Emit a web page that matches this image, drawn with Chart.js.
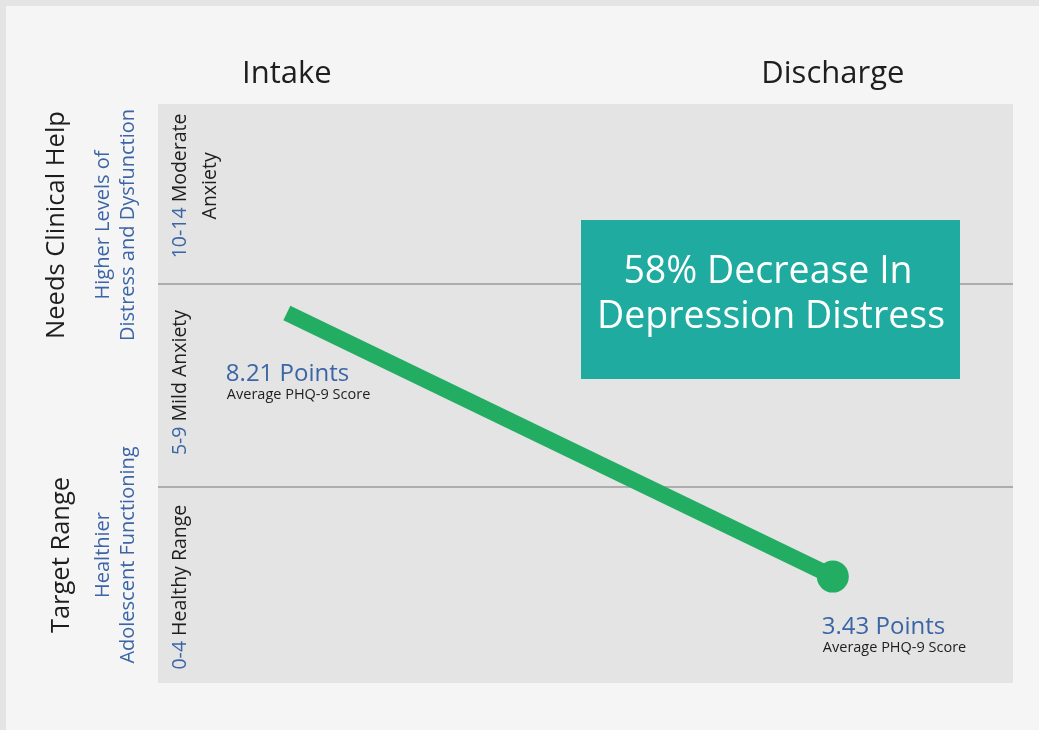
<!DOCTYPE html>
<html>
<head>
<meta charset="utf-8">
<script src="https://cdn.jsdelivr.net/npm/chart.js@4"></script>
<style>
html, body { margin: 0; padding: 0; background: #e4e5e4; }
canvas { display: block; }
</style>
</head>
<body>
<canvas id="myChart" width="1039" height="730"></canvas>
<script>
// chart data
const stages = ['Intake', 'Discharge'];
const phqScores = [8.21, 3.43];
const bandEdges = [5.05, 8.74];
const bandLabels = [
    { range: '0-4', lines: ['Healthy Range'] },
    { range: '5-9', lines: ['Mild Anxiety'] },
    { range: '10-14', lines: ['Moderate', 'Anxiety'] }
];
const calloutLines = ['58% Decrease In', 'Depression Distress'];

const FONT = '"Open Sans", "Noto Sans", sans-serif';
const BLUE = '#3c65a7';
const GREEN = '#23ad63';

const ctx = document.getElementById('myChart').getContext('2d');

//draws a rotated (bottom to top) line made of coloured parts, centred on x,y
const drawUpText = (c, x, y, parts, size) => {
    c.save();
    c.translate(x, y);
    c.rotate(-Math.PI / 2);
    c.font = size + 'px ' + FONT;
    c.textBaseline = 'middle';
    c.textAlign = 'left';
    let total = 0;
    parts.forEach(p => { total += c.measureText(p.text).width; });
    let pos = -total / 2;
    parts.forEach(p => {
        c.fillStyle = p.color;
        c.fillText(p.text, pos, 0);
        pos += c.measureText(p.text).width;
    });
    c.restore();
};

//background, card and plot area fill
const backdrop = {
    id: 'backdrop',
    beforeDraw(chart) {
        const c = chart.ctx;
        const a = chart.chartArea;
        c.save();
        c.fillStyle = '#e3e4e3';
        c.fillRect(0, 0, chart.width, chart.height);
        c.fillStyle = '#f4f5f4';
        c.fillRect(6, 6, chart.width - 6, chart.height - 6);
        c.fillStyle = '#e3e4e3';
        c.fillRect(a.left, a.top, a.right - a.left, a.bottom - a.top);
        c.restore();
    }
};

//side titles, band names, point notes and the callout box
const notes = {
    id: 'notes',
    afterDraw(chart) {
        const c = chart.ctx;
        const a = chart.chartArea;
        const xs = chart.scales.x;
        const ys = chart.scales.y;

        //left side titles
        drawUpText(c, 57, a.top + 121, [{ text: 'Needs Clinical Help', color: '#1e1e1e' }], 25.5);
        drawUpText(c, 103, a.top + 121, [{ text: 'Higher Levels of', color: BLUE }], 20);
        drawUpText(c, 128, a.top + 121, [{ text: 'Distress and Dysfunction', color: BLUE }], 20);
        drawUpText(c, 62, a.top + 451, [{ text: 'Target Range', color: '#1e1e1e' }], 25.5);
        drawUpText(c, 103, a.top + 451, [{ text: 'Healthier', color: BLUE }], 20);
        drawUpText(c, 128, a.top + 451, [{ text: 'Adolescent Functioning', color: BLUE }], 20);

        //band names inside the plot
        const edges = [ys.min].concat(bandEdges, [ys.max]);
        const shifts = [2, -3, -8];
        bandLabels.forEach((band, i) => {
            const yMid = (ys.getPixelForValue(edges[i]) + ys.getPixelForValue(edges[i + 1])) / 2 + shifts[i];
            band.lines.forEach((line, j) => {
                const parts = j === 0
                    ? [{ text: band.range + ' ', color: BLUE }, { text: line, color: '#1e1e1e' }]
                    : [{ text: line, color: '#1e1e1e' }];
                drawUpText(c, a.left + 22 + j * 30, yMid, parts, 19.5);
            });
        });

        //score notes beside each point
        const offsets = [{ dx: -61, dy: 68 }, { dx: -11, dy: 57 }];
        phqScores.forEach((v, i) => {
            const px = xs.getPixelForValue(i);
            const py = ys.getPixelForValue(v);
            c.save();
            c.textAlign = 'left';
            c.textBaseline = 'alphabetic';
            c.fillStyle = BLUE;
            c.font = '24px ' + FONT;
            c.fillText(v.toFixed(2) + ' Points', px + offsets[i].dx, py + offsets[i].dy);
            c.fillStyle = '#1e1e1e';
            c.font = '14.5px ' + FONT;
            c.fillText('Average PHQ-9 Score', px + offsets[i].dx + 1, py + offsets[i].dy + 18);
            c.restore();
        });

        //callout box
        const bx = a.left + 423, by = a.top + 116, bw = 379, bh = 159;
        c.save();
        c.fillStyle = '#1fab9f';
        c.fillRect(bx, by, bw, bh);
        c.fillStyle = '#ffffff';
        c.font = '37.5px ' + FONT;
        c.textAlign = 'center';
        c.textBaseline = 'alphabetic';
        c.fillText(calloutLines[0], bx + 187, by + 63);
        c.fillText(calloutLines[1], bx + 190, by + 108);
        c.restore();
    }
};

const myChart = new Chart(ctx, {
    type: 'line',
    data: {
        datasets: [{
            label: 'Average PHQ-9 Score',
            data: phqScores.map((v, i) => ({ x: i, y: v })),
            borderColor: GREEN,
            backgroundColor: GREEN,
            borderWidth: 16,
            borderCapStyle: 'butt',
            pointRadius: [0, 16],
            pointHoverRadius: [0, 16],
            pointBorderWidth: 0,
            pointBackgroundColor: GREEN,
            tension: 0
        }]
    },
    options: {
        responsive: false,
        animation: false,
        layout: {
            padding: { left: 158, right: 26, top: 44, bottom: 47 }
        },
        plugins: {
            legend: { display: false },
            tooltip: { enabled: false }
        },
        scales: {
            x: {
                type: 'linear',
                position: 'top',
                min: -0.236,
                max: 1.33,
                afterBuildTicks: scale => {
                    scale.ticks = stages.map((s, i) => ({ value: i }));
                },
                afterFit: scale => { scale.height = 60; },
                grid: { display: false, drawTicks: false },
                border: { display: false },
                ticks: {
                    padding: 11,
                    color: '#1e1e1e',
                    font: { family: FONT, size: 31 },
                    callback: value => stages[value]
                }
            },
            y: {
                type: 'linear',
                min: 1.5,
                max: 12,
                afterBuildTicks: scale => {
                    scale.ticks = bandEdges.map(v => ({ value: v }));
                },
                afterFit: scale => { scale.width = 0; },
                grid: { color: '#acadac', lineWidth: 2, drawTicks: false },
                border: { display: false },
                ticks: { display: false }
            }
        }
    },
    plugins: [backdrop, notes]
});
</script>
</body>
</html>
